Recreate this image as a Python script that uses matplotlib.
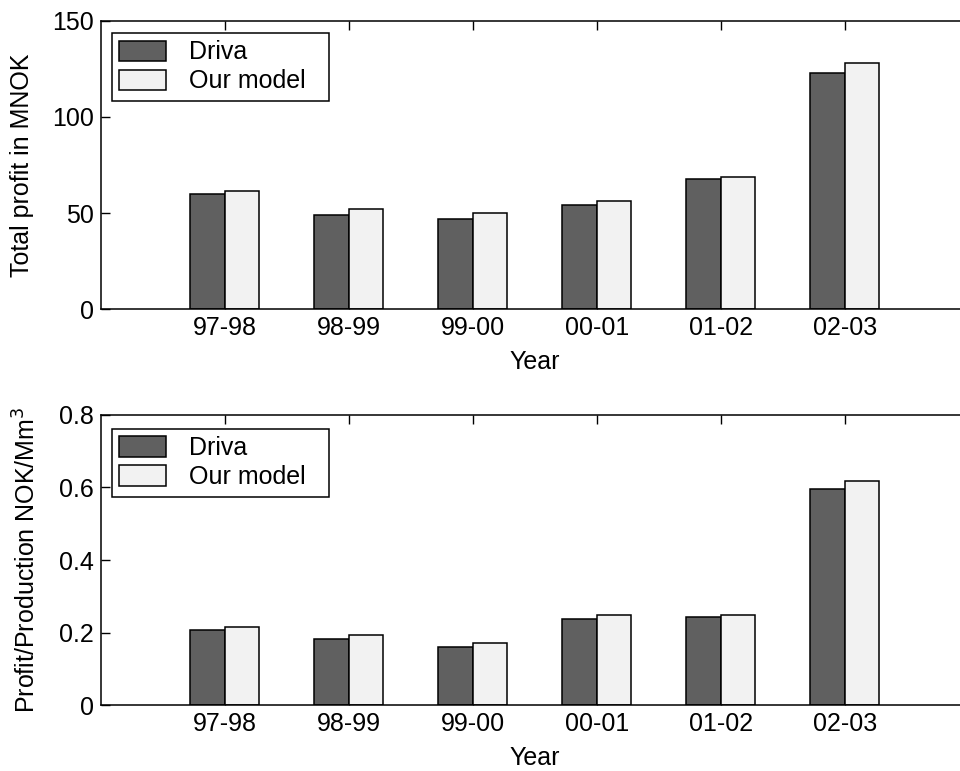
import numpy as np
import matplotlib.pyplot as plt

plt.rcParams['font.family'] = ['Liberation Sans', 'DejaVu Sans']
plt.rcParams['font.size'] = 18

years = ['97-98', '98-99', '99-00', '00-01', '01-02', '02-03']
profit_driva = [59.7, 49.0, 47.0, 54.2, 67.7, 123.0]
profit_model = [61.5, 52.0, 50.2, 56.2, 68.9, 128.0]
ratio_driva = [0.209, 0.183, 0.160, 0.237, 0.243, 0.597]
ratio_model = [0.215, 0.193, 0.172, 0.248, 0.248, 0.618]

dark = '#606060'
light = '#f2f2f2'
w = 0.28

fig = plt.figure(figsize=(9.6, 7.71), dpi=100)
# right edge runs past the figure, like the original clipped figure
ax1 = fig.add_axes([0.105, 0.599, 0.904, 0.374])
ax2 = fig.add_axes([0.105, 0.085, 0.904, 0.377])

def draw(ax, a, b, ymax, yticks, ylabel, leg_top):
    x = np.arange(1, len(years) + 1)
    ax.bar(x - w / 2, a, w, color=dark, edgecolor='black', linewidth=1.1, label='Driva')
    ax.bar(x + w / 2, b, w, color=light, edgecolor='black', linewidth=1.1, label='Our model')
    ax.set_axisbelow(True)
    ax.set_xlim(0, 7)
    ax.set_ylim(0, ymax)
    ax.set_xticks(x)
    ax.set_xticklabels(years)
    ax.set_yticks(yticks)
    ax.tick_params(direction='in', length=6.5, width=1, top=True, right=True, pad=5)
    for s in ax.spines.values():
        s.set_linewidth(1.1)
    ax.set_xlabel('Year', labelpad=7)
    ax.set_ylabel(ylabel, labelpad=13)
    leg = ax.legend(loc='upper left', bbox_to_anchor=(0.0127, leg_top - 0.3, 0.25, 0.3),
                    mode='expand', frameon=True,
                    fancybox=False, edgecolor='black', framealpha=1,
                    handlelength=1.85, handleheight=0.88, borderpad=0.3,
                    labelspacing=0.2, handletextpad=0.92, borderaxespad=0)
    leg.get_frame().set_linewidth(1.1)

draw(ax1, profit_driva, profit_model, 150, [0, 50, 100, 150], 'Total profit in MNOK', 0.958)
draw(ax2, ratio_driva, ratio_model, 0.8, [0, 0.2, 0.4, 0.6, 0.8], 'Profit/Production NOK/Mm$^3$', 0.952)
ax2.set_yticklabels(['0', '0.2', '0.4', '0.6', '0.8'])

fig.savefig('out.png', dpi=100)
